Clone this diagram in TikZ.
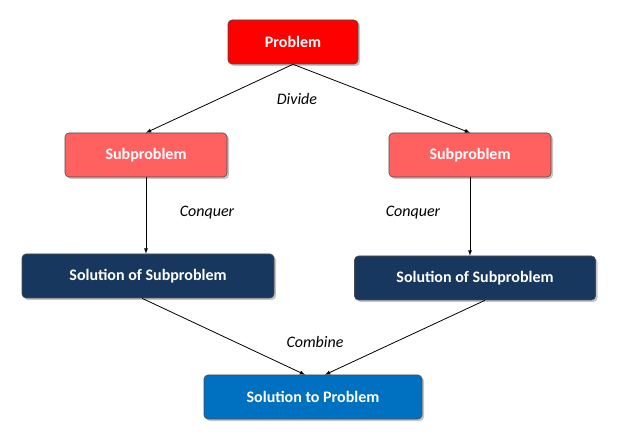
\documentclass[tikz,border=0pt]{standalone}
\usepackage{fontspec}
\setmainfont{Carlito}
\usetikzlibrary{positioning,shadows}
\definecolor{probred}{HTML}{FF0000}
\definecolor{subred}{HTML}{FF6161}
\definecolor{solnavy}{HTML}{17375E}
\definecolor{finblue}{HTML}{0070C0}
\begin{document}
\begin{tikzpicture}[x=1pt,y=-1pt,>=latex,thick,
    box/.style={rectangle,rounded corners=4pt,draw=black!70,line width=0.6pt,
      font=\fontsize{16}{18}\selectfont\bfseries,text=white,minimum height=44pt,
      drop shadow={shadow xshift=2pt,shadow yshift=-2pt,fill=black!45}},
    step label/.style={font=\fontsize{16}{18}\selectfont\itshape}]
 \useasboundingbox (0,0) rectangle (633,441);
 \node[box,fill=probred,minimum width=130pt] (Problem) at (293,42) {Problem};
 \node[box,fill=subred,minimum width=162pt] (SubL) at (146,155) {Subproblem};
 \node[box,fill=subred,minimum width=162pt] (SubR) at (470,155) {Subproblem};
 \node[box,fill=solnavy,minimum width=252pt] (SolL) at (148,276) {Solution of Subproblem};
 \node[box,fill=solnavy,minimum width=241pt] (SolR) at (475,278) {Solution of Subproblem};
 \node[box,fill=finblue,minimum width=218pt] (Final) at (313,397) {Solution to Problem};

\draw[->,line width=0.8pt] (Problem.south) -- (SubL.north);
\draw[->,line width=0.8pt] (Problem.south) -- (SubR.north);
\draw[->,line width=0.8pt] (SubL.south) -- (SubL.south |- SolL.north);
\draw[->,line width=0.8pt] (SubR.south) -- (SubR.south |- SolR.north);
\draw[->,line width=0.8pt] ([xshift=-6pt]SolL.south) -- ([xshift=-8pt]Final.north);
\draw[->,line width=0.8pt] ([xshift=10pt]SolR.south) -- ([xshift=12pt]Final.north);

\node[step label] (Divide) at (297,99) {Divide};
\node[step label] (ConquerL) at (207,213) {Conquer};
\node[step label] (ConquerR) at (413,213) {Conquer};
\node[step label] (Combine) at (315,342) {Combine};
\end{tikzpicture}
\end{document}
